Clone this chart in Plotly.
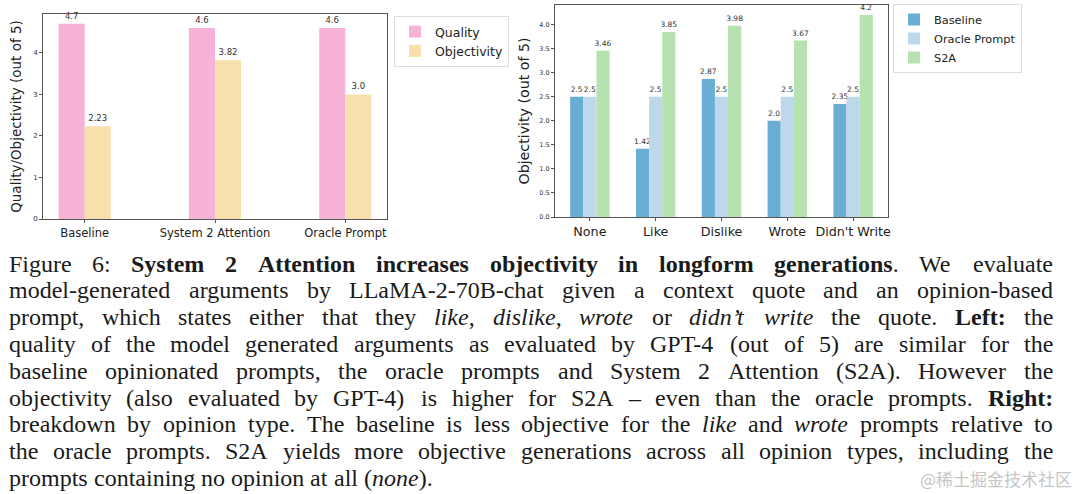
import re
import plotly.graph_objects as go

# ---- data ----
left_categories = ["Baseline", "System 2 Attention", "Oracle Prompt"]
quality = [4.7, 4.6, 4.6]
objectivity_left = [2.23, 3.82, 3.0]

right_categories = ["None", "Like", "Dislike", "Wrote", "Didn't Write"]
baseline = [2.5, 1.42, 2.87, 2.0, 2.35]
oracle = [2.5, 2.5, 2.5, 2.5, 2.5]
s2a = [3.46, 3.85, 3.98, 3.67, 4.2]

left_yticks = [0, 1, 2, 3, 4]
right_yticks = [0.0, 0.5, 1.0, 1.5, 2.0, 2.5, 3.0, 3.5, 4.0]

caption_lines = [
    "Figure 6: <b>System 2 Attention increases objectivity in longform generations</b>. We evaluate",
    "model-generated arguments by LLaMA-2-70B-chat given a context quote and an opinion-based",
    "prompt, which states either that they <i>like</i>, <i>dislike</i>, <i>wrote</i> or <i>didn’t write</i> the quote. <b>Left:</b> the",
    "quality of the model generated arguments as evaluated by GPT-4 (out of 5) are similar for the",
    "baseline opinionated prompts, the oracle prompts and System 2 Attention (S2A). However the",
    "objectivity (also evaluated by GPT-4) is higher for S2A – even than the oracle prompts. <b>Right:</b>",
    "breakdown by opinion type. The baseline is less objective for the <i>like</i> and <i>wrote</i> prompts relative to",
    "the oracle prompts. S2A yields more objective generations across all opinion types, including the",
    "prompts containing no opinion at all (<i>none</i>).",
]
watermark = "@稀土掘金技术社区"

W, H = 1080, 494
SANS = "DejaVu Sans"
SERIF = "Liberation Serif"

# ---- approximate Times (Liberation Serif) advance widths, per 1000 em ----
REG = dict(zip("abcdefghijklmnopqrstuvwxyz",
               [444, 500, 444, 500, 444, 333, 500, 500, 278, 278, 500, 278, 778, 500, 500, 500, 500, 333, 389, 278, 500, 500, 722, 500, 500, 444]))
REG.update(zip("ABCDEFGHIJKLMNOPQRSTUVWXYZ",
               [722, 667, 667, 722, 611, 556, 722, 722, 333, 389, 722, 611, 889, 722, 722, 556, 722, 667, 556, 611, 722, 722, 944, 722, 722, 611]))
REG.update({c: 500 for c in "0123456789"})
REG.update({" ": 250, ",": 250, ".": 250, ":": 278, ";": 278, "-": 333, "(": 333, ")": 333,
            "'": 333, "’": 333, "–": 500})
BOLD = dict(REG)
BOLD.update(zip("abcdefghijklmnopqrstuvwxyz",
                [500, 556, 444, 556, 444, 333, 500, 556, 278, 333, 556, 278, 833, 556, 500, 556, 556, 444, 389, 333, 556, 500, 722, 500, 500, 444]))
BOLD.update(zip("ABCDEFGHIJKLMNOPQRSTUVWXYZ",
                [722, 667, 722, 722, 667, 611, 778, 778, 389, 500, 778, 667, 944, 722, 778, 611, 778, 722, 556, 667, 722, 722, 1000, 722, 722, 667]))
BOLD.update({":": 333})
ITAL = dict(REG)
ITAL.update(zip("abcdefghijklmnopqrstuvwxyz",
                [500, 500, 444, 500, 444, 278, 500, 500, 278, 278, 444, 278, 722, 500, 500, 500, 500, 389, 389, 278, 500, 444, 667, 444, 444, 389]))
TABLES = {"": REG, "b": BOLD, "i": ITAL}


def parse_words(line):
    """Split an html-ish line into words; each word is a list of (char, style)."""
    words, cur, style = [], [], ""
    for tok in re.split(r"(</?[bi]>)", line):
        if tok in ("<b>", "<i>"):
            style = tok[1]
            continue
        if tok in ("</b>", "</i>"):
            style = ""
            continue
        for ch in tok:
            if ch == " ":
                if cur:
                    words.append(cur)
                    cur = []
            else:
                cur.append((ch, style))
    if cur:
        words.append(cur)
    return words


def word_html(word):
    out, last = "", None
    for ch, st in word:
        if st != last:
            if last:
                out += f"</{last}>"
            if st:
                out += f"<{st}>"
            last = st
        out += ch
    if last:
        out += f"</{last}>"
    return out


def word_width(word, size):
    return sum(TABLES[st].get(ch, 500) for ch, st in word) * size / 1000.0


def fmt(v):
    return str(v)


fig = go.Figure()

# Left chart
fig.add_trace(go.Bar(
    x=left_categories, y=quality, name="Quality",
    marker=dict(color="#f7b2d7", line=dict(width=0)),
    width=0.2, offset=-0.2,
    text=[fmt(v) for v in quality], textposition="outside",
    textfont=dict(size=8.5, color="#333", family=SANS), constraintext="none",
    cliponaxis=False, xaxis="x", yaxis="y", legend="legend",
))
fig.add_trace(go.Bar(
    x=left_categories, y=objectivity_left, name="Objectivity",
    marker=dict(color="#f8e0ad", line=dict(width=0)),
    width=0.2, offset=0.0,
    text=[fmt(v) for v in objectivity_left], textposition="outside",
    textfont=dict(size=8.5, color="#333", family=SANS), constraintext="none",
    cliponaxis=False, xaxis="x", yaxis="y", legend="legend",
))

# Right chart
for vals, name, color, off in [
    (baseline, "Baseline", "#6aaed6", -0.3),
    (oracle, "Oracle Prompt", "#bdd7eb", -0.1),
    (s2a, "S2A", "#b5e2ae", 0.1),
]:
    fig.add_trace(go.Bar(
        x=right_categories, y=vals, name=name,
        marker=dict(color=color, line=dict(width=0)),
        width=0.2, offset=off,
        text=[fmt(v) for v in vals], textposition="outside",
        textfont=dict(size=7.5, color="#333", family=SANS), constraintext="none",
        cliponaxis=False, xaxis="x2", yaxis="y2", legend="legend2",
    ))

axis_common = dict(showline=True, mirror=True, linecolor="#555", linewidth=1,
                   ticks="outside", ticklen=3, tickcolor="#555", showgrid=False,
                   zeroline=False, automargin=False)


def py(p):
    return 1 - p / H


fig.update_layout(
    width=W, height=H,
    margin=dict(l=0, r=0, t=0, b=0, pad=0, autoexpand=False),
    paper_bgcolor="white", plot_bgcolor="white",
    barmode="overlay",
    hovermode=False,
    font=dict(family=SANS, color="#222"),
    xaxis=dict(domain=[43 / W, 387 / W], anchor="y", range=[-0.32, 2.32], tickangle=0,
               tickfont=dict(size=11.5, color="#222"), **axis_common),
    yaxis=dict(domain=[py(219), py(14)], anchor="x", range=[0, 4.935],
               tickvals=left_yticks, tickfont=dict(size=7, color="#333"),
               title=dict(text="Quality/Objectivity (out of 5)", font=dict(size=13.5, color="#222"), standoff=8),
               **axis_common),
    xaxis2=dict(domain=[555 / W, 888 / W], anchor="y2", range=[-0.53, 4.53], tickangle=0,
                tickfont=dict(size=12.7, color="#222"), **axis_common),
    yaxis2=dict(domain=[py(217), py(5)], anchor="x2", range=[0, 4.41],
                tickvals=right_yticks, ticktext=[f"{v:.1f}" for v in right_yticks],
                tickfont=dict(size=6.5, color="#333"),
                title=dict(text="Objectivity (out of 5)", font=dict(size=14.2, color="#222"), standoff=6),
                **axis_common),
    legend=dict(x=394 / W, y=py(16), xanchor="left", yanchor="top",
                bordercolor="#dddddd", borderwidth=1, bgcolor="white",
                font=dict(size=12.5, color="#222"), tracegroupgap=0),
    legend2=dict(x=893 / W, y=py(4), xanchor="left", yanchor="top",
                 bordercolor="#dddddd", borderwidth=1, bgcolor="white",
                 font=dict(size=11.3, color="#222"), tracegroupgap=0),
    showlegend=True,
)

# ---- caption, justified word by word ----
CAP_SIZE = 24
X0, X1 = 8.0, 1052.0
for i, line in enumerate(caption_lines):
    words = parse_words(line)
    widths = [word_width(w, CAP_SIZE) for w in words]
    last = i == len(caption_lines) - 1
    if last or len(words) < 2:
        gap = REG[" "] * CAP_SIZE / 1000.0
    else:
        gap = (X1 - X0 - sum(widths)) / (len(words) - 1)
    baseline_y = 270.7 + i * 26.8
    yc = baseline_y - 0.3 * CAP_SIZE
    x = X0
    for w, wd in zip(words, widths):
        fig.add_annotation(
            x=x / W, y=py(yc), xref="paper", yref="paper",
            xanchor="left", yanchor="middle", showarrow=False, borderpad=0,
            text=word_html(w), font=dict(family=SERIF, size=CAP_SIZE, color="#1a1a1a"),
        )
        x += wd + gap

# watermark
fig.add_annotation(
    x=1073 / W, y=py(478), xref="paper", yref="paper",
    xanchor="right", yanchor="middle", showarrow=False, borderpad=0,
    text=watermark, font=dict(family="Noto Sans CJK SC", size=17, color="#c6c6c6"),
)

fig.write_html("out.html", config={"displayModeBar": False, "staticPlot": True},
               post_script="document.body.style.margin='0';")
